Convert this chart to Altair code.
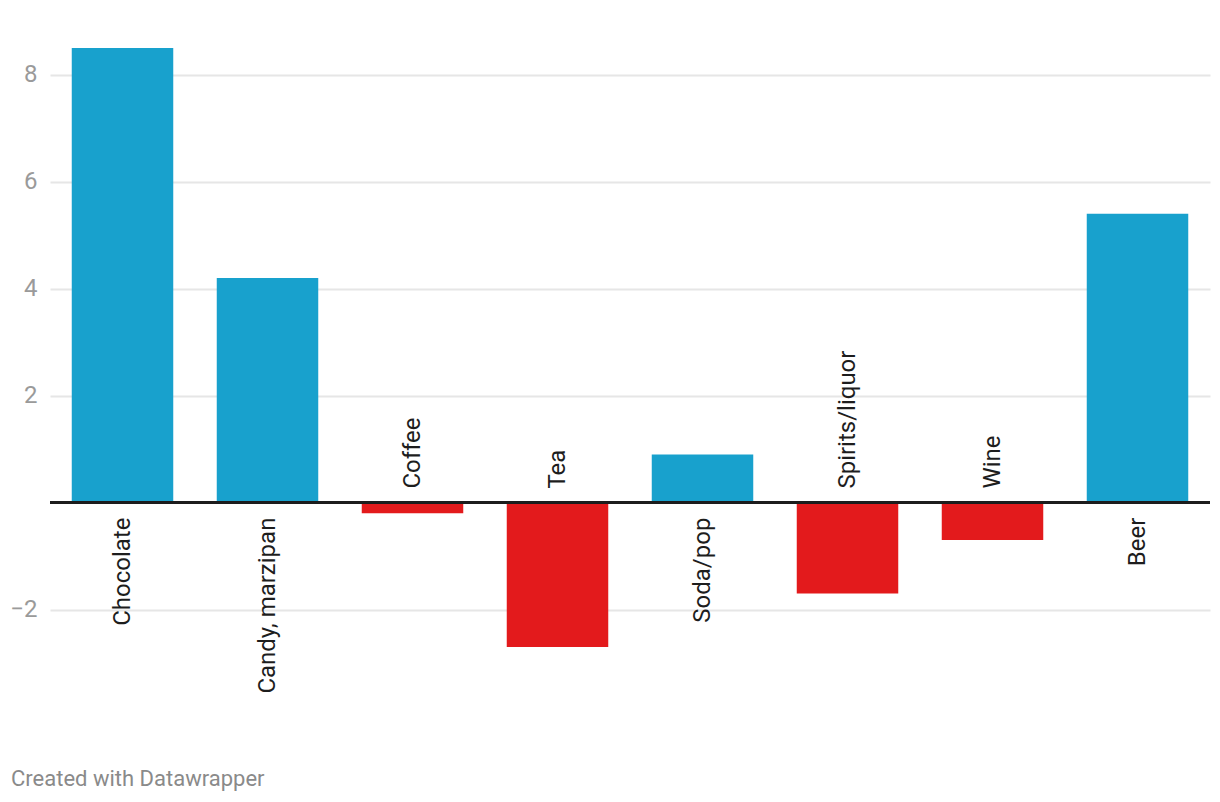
import altair as alt
import pandas as pd

categories = ["Chocolate", "Candy, marzipan", "Coffee", "Tea", "Soda/pop",
              "Spirits/liquor", "Wine", "Beer"]
values = [8.5, 4.2, -0.2, -2.7, 0.9, -1.7, -0.7, 5.4]
y_ticks = [-2, 2, 4, 6, 8]

df = pd.DataFrame({"category": categories, "value": values})
df["sign"] = ["pos" if v >= 0 else "neg" for v in values]

FONT = "Roboto"

x_enc = alt.X("category:N", sort=categories, axis=None,
              scale=alt.Scale(paddingInner=0.3, paddingOuter=0.15))
y_scale = alt.Scale(domain=[-2.7, 8.5], nice=False, zero=False)

bars = alt.Chart(df).mark_bar().encode(
    x=x_enc,
    y=alt.Y("value:Q", scale=y_scale,
            axis=alt.Axis(values=y_ticks, title=None, domain=False, ticks=False,
                          labelPadding=13, labelFontSize=24, labelFont=FONT,
                          labelColor="#9a9a9a", gridColor="#e6e6e6", gridWidth=2)),
    color=alt.Color("sign:N", scale=alt.Scale(domain=["pos", "neg"],
                                              range=["#18a1cd", "#e31a1c"]),
                    legend=None),
)

zero_rule = alt.Chart(df).mark_rule(color="#1d1d1d", strokeWidth=2).encode(
    y=alt.datum(0)
)

pos_labels = alt.Chart(df).transform_filter(alt.datum.value >= 0).mark_text(
    angle=270, align="right", baseline="middle", dx=-15,
    font=FONT, fontSize=24, color="#1d1d1d"
).encode(x=x_enc, y=alt.datum(0), text="category:N")

neg_labels = alt.Chart(df).transform_filter(alt.datum.value < 0).mark_text(
    angle=270, align="left", baseline="middle", dx=14,
    font=FONT, fontSize=24, color="#1d1d1d"
).encode(x=x_enc, y=alt.datum(0), text="category:N")

chart = alt.layer(bars, zero_rule, pos_labels, neg_labels).properties(
    width=1160, height=599,
    autosize=alt.AutoSizeParams(type="none"),
    padding={"left": 42, "top": 40, "right": 2, "bottom": 146},
    title=alt.TitleParams("Created with Datawrapper", orient="bottom",
                          anchor="start", frame="group", font=FONT,
                          fontSize=22, fontWeight="normal", color="#8a8a8a",
                          baseline="alphabetic", offset=92, dx=-39),
).configure_view(stroke=None)

chart.save("out.html", embed_options={"renderer": "svg", "actions": False})
